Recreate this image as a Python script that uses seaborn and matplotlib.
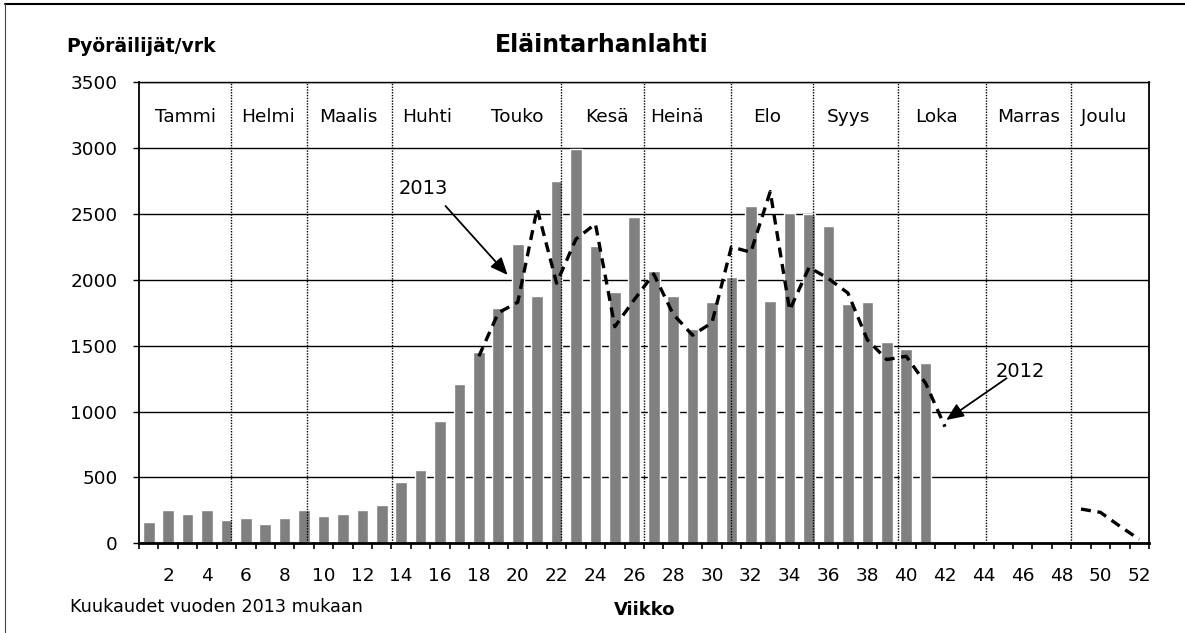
import numpy as np
import pandas as pd
import matplotlib
matplotlib.use("Agg")
import matplotlib.pyplot as plt
from matplotlib.lines import Line2D
import seaborn as sns

# viikoittaiset pyöräilijämäärät (2013 pylväät, 2012 katkoviiva)
weeks_2013 = list(range(1, 42))
cyclists_2013 = [165, 250, 220, 250, 180, 195, 150, 195, 250, 210,
                 220, 250, 290, 465, 560, 925, 1210, 1450, 1785, 2275,
                 1880, 2750, 2995, 2260, 1910, 2475, 2070, 1880, 1625, 1830,
                 2020, 2560, 1840, 2505, 2500, 2410, 1815, 1830, 1530, 1475,
                 1370]

weeks_2012 = list(range(18, 43)) + list(range(49, 53))
cyclists_2012 = [1420, 1750, 1830, 2540, 1975, 2310, 2425, 1645, 1850, 2045,
                 1740, 1580, 1675, 2250, 2210, 2670, 1770, 2095, 2010, 1900,
                 1545, 1395, 1420, 1215, 885,
                 260, 235, 130, 30]
segment_2012 = [1] * 25 + [2] * 4

month_names = ["Tammi", "Helmi", "Maalis", "Huhti", "Touko", "Kesä",
               "Heinä", "Elo", "Syys", "Loka", "Marras", "Joulu"]

# layout
MONTH_LABEL_X = [2.87, 7.16, 11.28, 15.31, 19.95, 24.58,
                 28.19, 32.82, 37.02, 41.58, 46.29, 50.15]
MONTH_DIVIDERS = [5.24, 9.14, 13.51, 22.21, 26.50, 30.97,
                  35.22, 39.58, 44.11, 48.48]
FS = 13.3

sns.set_theme(style="white")
plt.rcParams["font.family"] = ["DejaVu Sans"]
plt.rcParams.update({"text.color": "black", "axes.labelcolor": "black",
                     "xtick.color": "black", "ytick.color": "black"})

fig = plt.figure(figsize=(11.85, 6.33), dpi=100)
ax = fig.add_axes([0.1173, 0.1417, 0.8523, 0.7283])

bars = pd.DataFrame({"week": weeks_2013, "count": cyclists_2013})
sns.barplot(data=bars, x="week", y="count", native_scale=True,
            color="#808080", saturation=1, width=0.6, errorbar=None,
            ax=ax, zorder=2)

line = pd.DataFrame({"week": weeks_2012, "count": cyclists_2012,
                     "segment": segment_2012})
sns.lineplot(data=line, x="week", y="count", units="segment", estimator=None,
             color="black", lw=2.4, linestyle=(0, (3, 2)), ax=ax, zorder=4)

for x in MONTH_DIVIDERS:
    ax.axvline(x, color="black", lw=1, linestyle=(0, (1, 1)), zorder=3)

for name, x in zip(month_names, MONTH_LABEL_X):
    ax.text(x, 3240, name, ha="center", va="center", fontsize=FS,
            color="black")

ax.set_xlim(0.5, 52.5)
ax.set_ylim(0, 3500)
ax.set_yticks(range(0, 3501, 500))
ax.set_xticks(range(2, 53, 2))
ax.set_xticks(np.arange(0.5, 53, 1), minor=True)
ax.yaxis.grid(True, color="black", lw=1)
ax.xaxis.grid(False)
ax.set_axisbelow(True)
ax.set_xlabel("")
ax.set_ylabel("")

ax.tick_params(axis="x", which="major", length=0, pad=17, labelsize=FS,
               labelcolor="black")
ax.tick_params(axis="x", which="minor", length=4.5, width=1.2,
               direction="out", bottom=True, color="black")
ax.tick_params(axis="y", length=4.5, width=1, left=True, direction="out",
               color="black", pad=11, labelsize=FS, labelcolor="black")

for side, w in {"left": 1.3, "bottom": 2.0, "top": 1.0, "right": 1.3}.items():
    ax.spines[side].set_visible(True)
    ax.spines[side].set_color("black")
    ax.spines[side].set_linewidth(w)

# nuolet ja vuosiluvut
ax.text(15.16, 2695, "2013", ha="center", va="center", fontsize=14,
        color="black")
ax.annotate("", xy=(19.48, 2037), xytext=(16.28, 2561),
            arrowprops=dict(arrowstyle="-|>,head_length=0.7,head_width=0.3",
                            color="black", lw=1.3, mutation_scale=15,
                            shrinkA=0, shrinkB=0))
ax.text(45.86, 1303, "2012", ha="center", va="center", fontsize=14,
        color="black")
ax.annotate("", xy=(42.06, 936), xytext=(45.17, 1253),
            arrowprops=dict(arrowstyle="-|>,head_length=0.7,head_width=0.3",
                            color="black", lw=1.3, mutation_scale=15,
                            shrinkA=0, shrinkB=0))

fig.text(0.119, 0.926, "Pyöräilijät/vrk", ha="center", va="center",
         fontsize=13.5, fontweight="bold", color="black")
fig.text(0.508, 0.929, "Eläintarhanlahti", ha="center", va="center",
         fontsize=17, fontweight="bold", color="black")
fig.text(0.059, 0.041, "Kuukaudet vuoden 2013 mukaan", ha="left",
         va="center", fontsize=12.7, color="black")
fig.text(0.5443, 0.036, "Viikko", ha="center", va="center",
         fontsize=13, fontweight="bold", color="black")

# kehys
fig.add_artist(Line2D([0.0042, 1], [0.9937, 0.9937], transform=fig.transFigure,
                      color="black", lw=1.5))
fig.add_artist(Line2D([0.0042, 0.0042], [0, 0.9937], transform=fig.transFigure,
                      color="#444444", lw=0.8))

fig.savefig("out.png", dpi=100)
